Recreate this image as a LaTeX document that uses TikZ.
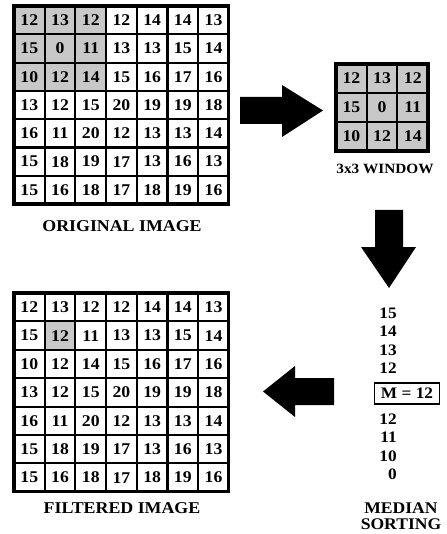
\documentclass[tikz,border=0pt]{standalone}
\usepackage{fontspec}
\setmainfont[FakeStretch=1.08]{Liberation Serif}
\definecolor{cellgray}{RGB}{200,200,200}
\begin{document}
\begin{tikzpicture}[x=0.75pt,y=-0.75pt,
  cell/.style={draw=black, line width=1.5pt, minimum width=23.0pt, minimum height=21.2pt,
    inner sep=0pt, outer sep=0pt, font=\fontsize{12.3}{14}\selectfont\bfseries},
  wcell/.style={cell, fill=cellgray, minimum height=21.75pt},
  caption/.style={font=\fontsize{12.4}{12}\selectfont\bfseries, inner sep=0pt, align=center},
  blockarrow/.style={fill=black, draw=none},
  num/.style={font=\fontsize{12}{14}\selectfont\bfseries, inner sep=0pt, anchor=east},
  mbox/.style={draw=black, line width=1.4pt, minimum width=48.75pt, minimum height=15.75pt,
    inner sep=0pt, font=\fontsize{12}{14}\selectfont\bfseries}]
\useasboundingbox (0,0) rectangle (446,534);

% original image
\foreach \row [count=\r] in {{12,13,12,12,14,14,13},{15,0,11,13,13,15,14},{10,12,14,15,16,17,16},{13,12,15,20,19,19,18},{16,11,20,12,13,13,14},{15,18,19,17,13,16,13},{15,16,18,17,18,19,16}}{
  \foreach \v [count=\c] in \row {
    \pgfmathtruncatemacro\pct{and(\r<4,\c<4)*100}
    \node[cell, fill=cellgray!\pct!white] (o-\r-\c) at ({14+30.7*(\c-0.5)},{6+28.3*(\r-0.5)}) {\v};
  }
}
\draw[line width=2.4pt] (o-1-1.north west) rectangle (o-7-7.south east);
\node[caption] (ocap) at (122,226) {ORIGINAL IMAGE};

% filtered image
\foreach \row [count=\r] in {{12,13,12,12,14,14,13},{15,12,11,13,13,15,14},{10,12,14,15,16,17,16},{13,12,15,20,19,19,18},{16,11,20,12,13,13,14},{15,18,19,17,13,16,13},{15,16,18,17,18,19,16}}{
  \foreach \v [count=\c] in \row {
    \pgfmathtruncatemacro\pct{and(\r==2,\c==2)*100}
    \node[cell, fill=cellgray!\pct!white] (f-\r-\c) at ({14+30.7*(\c-0.5)},{293+28.4*(\r-0.5)}) {\v};
  }
}
\draw[line width=2.4pt] (f-1-1.north west) rectangle (f-7-7.south east);
\node[caption] (fcap) at (122,508) {FILTERED IMAGE};

% 3x3 window
\foreach \row [count=\r] in {{12,13,12},{15,0,11},{10,12,14}}{
  \foreach \v [count=\c] in \row {
    \node[wcell] (w-\r-\c) at ({336+30.7*(\c-0.5)},{64+29*(\r-0.5)}) {\v};
  }
}
\draw[line width=2.4pt] (w-1-1.north west) rectangle (w-3-3.south east);
\node[caption, font=\fontsize{10.6}{12}\selectfont\bfseries] (wcap) at (385,169) {3x3 WINDOW};

% block arrows
\fill[blockarrow] (240,97) -- (282,97) -- (282,85) -- (323,110.5) -- (282,137) -- (282,124) -- (240,124) -- cycle;
\fill[blockarrow] (375,210) -- (403,210) -- (403,247) -- (416,247) -- (389,288) -- (361,247) -- (375,247) -- cycle;
\fill[blockarrow] (334,378) -- (295,378) -- (295,366) -- (263,391.5) -- (295,417) -- (295,405) -- (334,405) -- cycle;

% median sorting
\node[num] (s1) at (397,313) {15};
\node[num] (s2) at (397,331.5) {14};
\node[num] (s3) at (397,350) {13};
\node[num] (s4) at (397,368.5) {12};
\node[mbox] (med) at (407,393.5) {M = 12};
\node[num] (s5) at (397,419) {12};
\node[num] (s6) at (397,437.5) {11};
\node[num] (s7) at (397,456) {10};
\node[num] (s8) at (397,474.5) {0};
\node[caption, font=\fontsize{12.2}{12}\selectfont\bfseries] (scap) at (401,516) {MEDIAN\\SORTING};
\end{tikzpicture}
\end{document}
